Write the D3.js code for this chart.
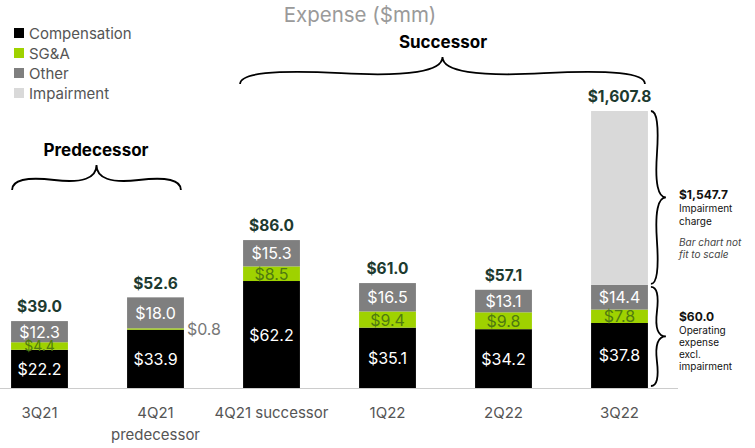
<!DOCTYPE html>
<html>
<head>
<meta charset="utf-8">
<script src="https://cdn.jsdelivr.net/npm/d3@7"></script>
<style>
  body { margin: 0; background: #fff; }
  svg { font-family: Inter, "Noto Sans", sans-serif; }
</style>
</head>
<body>
<div id="chart"></div>
<script>
/**
 * Data
 */
const periods = ["3Q21", "4Q21 predecessor", "4Q21 successor", "1Q22", "2Q22", "3Q22"]
const periodLines = [["3Q21"], ["4Q21", "predecessor"], ["4Q21 successor"], ["1Q22"], ["2Q22"], ["3Q22"]]
const compensation = [22.2, 33.9, 62.2, 35.1, 34.2, 37.8]
const sga = [4.4, 0.8, 8.5, 9.4, 9.8, 7.8]
const other = [12.3, 18.0, 15.3, 16.5, 13.1, 14.4]
const impairment = [0, 0, 0, 0, 0, 1547.7]
const totals = [39.0, 52.6, 86.0, 61.0, 57.1, 1607.8]
const seriesNames = ["Compensation", "SG&A", "Other", "Impairment"]
const keys = ["comp", "sga", "other", "imp"]
const colors = ["#000000", "#9fd200", "#7f7f7f", "#d9d9d9"]

/**
 * Sizes
 */
const width = 755
const height = 448
const baseline = 388

const svg = d3.select("#chart")
    .append("svg")
        .attr("width", width)
        .attr("height", height)

const rows = periods.map((p, i) => ({
    period: p,
    comp: compensation[i],
    sga: sga[i],
    other: other[i],
    imp: impairment[i]
}))

const x = d3.scaleBand()
    .domain(periods)
    .range([-18.5, 677.5])
    .paddingInner(0.51)
    .paddingOuter(0.255)

// bar chart not fit to scale: the impairment part is squeezed
const y = d3.scaleLinear()
    .domain([0, 100, 1607.8])
    .range([baseline, baseline - 172, 111])

const stacked = d3.stack().keys(keys)(rows)

// Title
svg.append("text")
    .attr("x", 360)
    .attr("y", 22)
    .attr("text-anchor", "middle")
    .attr("fill", "#9a9a9a")
    .style("font-size", "20.5px")
    .text("Expense ($mm)")

// Legend
const legend = svg.append("g")
seriesNames.forEach((name, i) => {
    legend.append("rect")
        .attr("x", 14)
        .attr("y", 28 + i * 20)
        .attr("width", 10)
        .attr("height", 10)
        .attr("fill", colors[i])
    legend.append("text")
        .attr("x", 29)
        .attr("y", 38.5 + i * 20)
        .attr("fill", "#555")
        .style("font-size", "15px")
        .text(name)
})

// Bars
const layers = svg.append("g")
    .selectAll("g")
    .data(stacked)
    .enter()
    .append("g")
        .attr("fill", (d, i) => colors[i])

layers.selectAll("rect")
    .data(d => d)
    .enter()
    .append("rect")
        .attr("x", d => x(d.data.period))
        .attr("y", d => y(d[1]))
        .attr("width", x.bandwidth())
        .attr("height", d => y(d[0]) - y(d[1]))

// Segment labels
const labelColors = { comp: "#ffffff", sga: "#4f7a10", other: "#ffffff" }
stacked.filter(s => s.key !== "imp").forEach(s => {
    s.forEach(d => {
        const h = y(d[0]) - y(d[1])
        const v = d[1] - d[0]
        const small = h < 4
        const thin = h < 12 && !small
        svg.append("text")
            .attr("x", small ? x(d.data.period) + x.bandwidth() + 3 : x(d.data.period) + x.bandwidth() / 2)
            .attr("y", (y(d[0]) + y(d[1])) / 2 + (thin ? 5 : 6))
            .attr("text-anchor", small ? "start" : "middle")
            .attr("fill", small ? "#777" : labelColors[s.key])
            .style("font-size", thin ? "14px" : "16px")
            .text("$" + v.toFixed(1))
    })
})

// Totals
svg.append("g")
    .selectAll("text")
    .data(rows)
    .enter()
    .append("text")
        .attr("x", d => x(d.period) + x.bandwidth() / 2)
        .attr("y", (d, i) => y(totals[i]) - 9)
        .attr("text-anchor", "middle")
        .attr("fill", "#1d3a2f")
        .style("font-size", "15.5px")
        .style("font-weight", "bold")
        .text((d, i) => "$" + d3.format(",.1f")(totals[i]))

// Baseline
svg.append("line")
    .attr("x1", 0)
    .attr("x2", 678)
    .attr("y1", baseline + 0.5)
    .attr("y2", baseline + 0.5)
    .attr("stroke", "#cccccc")

// X labels
periods.forEach((p, i) => {
    const t = svg.append("text")
        .attr("x", x(p) + x.bandwidth() / 2)
        .attr("y", 418)
        .attr("text-anchor", "middle")
        .attr("fill", "#555")
        .style("font-size", "15px")
    periodLines[i].forEach((line, j) => {
        t.append("tspan")
            .attr("x", x(p) + x.bandwidth() / 2)
            .attr("dy", j === 0 ? 0 : 22)
            .text(line)
    })
})

/**
 * Braces
 */
function brace(x1, y1, x2, y2, w, q) {
    let dx = x1 - x2, dy = y1 - y2
    const len = Math.sqrt(dx * dx + dy * dy)
    dx /= len; dy /= len
    const qx1 = x1 + q * w * dy, qy1 = y1 - q * w * dx
    const qx2 = (x1 - .25 * len * dx) + (1 - q) * w * dy, qy2 = (y1 - .25 * len * dy) - (1 - q) * w * dx
    const tx1 = (x1 - .5 * len * dx) + w * dy, ty1 = (y1 - .5 * len * dy) - w * dx
    const qx3 = x2 + q * w * dy, qy3 = y2 - q * w * dx
    const qx4 = (x1 - .75 * len * dx) + (1 - q) * w * dy, qy4 = (y1 - .75 * len * dy) - (1 - q) * w * dx
    return "M" + x1 + "," + y1 + " Q" + qx1 + "," + qy1 + " " + qx2 + "," + qy2 + " T" + tx1 + "," + ty1 +
        " M" + x2 + "," + y2 + " Q" + qx3 + "," + qy3 + " " + qx4 + "," + qy4 + " T" + tx1 + "," + ty1
}

const braces = svg.append("g")
    .attr("fill", "none")
    .attr("stroke", "#000")
    .attr("stroke-width", 1.8)

// predecessor
braces.append("path")
    .attr("d", brace(x(periods[1]) + x.bandwidth() - 3, 190, x(periods[0]) + 1, 190, 25, 0.6))
// successor
braces.append("path")
    .attr("d", brace(x(periods[5]) + x.bandwidth() - 3, 84, x(periods[2]) - 3, 84, 27, 0.6))
// impairment
const bx = x(periods[5]) + x.bandwidth() + 3
braces.append("path")
    .attr("d", brace(bx, y(60) - 1, bx, y(1607.8), 15, 0.6))
braces.append("path")
    .attr("d", brace(bx, baseline - 2, bx, y(60) + 2, 15, 0.6))

svg.append("text")
    .attr("x", 96)
    .attr("y", 156)
    .attr("text-anchor", "middle")
    .style("font-size", "17px")
    .style("font-weight", "bold")
    .text("Predecessor")

svg.append("text")
    .attr("x", 443)
    .attr("y", 48)
    .attr("text-anchor", "middle")
    .style("font-size", "17px")
    .style("font-weight", "bold")
    .text("Successor")

// Side notes
const notes = [
    { t: "$1,547.7", y: 199, b: true },
    { t: "Impairment", y: 212 },
    { t: "charge", y: 225 },
    { t: "Bar chart not", y: 246, i: true },
    { t: "fit to scale", y: 258, i: true },
    { t: "$60.0", y: 321, b: true },
    { t: "Operating", y: 333.5 },
    { t: "expense", y: 345.5 },
    { t: "excl.", y: 357.5 },
    { t: "impairment", y: 369.5 }
]
notes.forEach(n => {
    svg.append("text")
        .attr("x", 679)
        .attr("y", n.y)
        .attr("fill", n.i ? "#444" : "#111")
        .style("font-size", n.b ? "12px" : (n.i ? "10px" : "10px"))
        .style("font-weight", n.b ? "bold" : "normal")
        .style("font-style", n.i ? "italic" : "normal")
        .text(n.t)
})
</script>
</body>
</html>
